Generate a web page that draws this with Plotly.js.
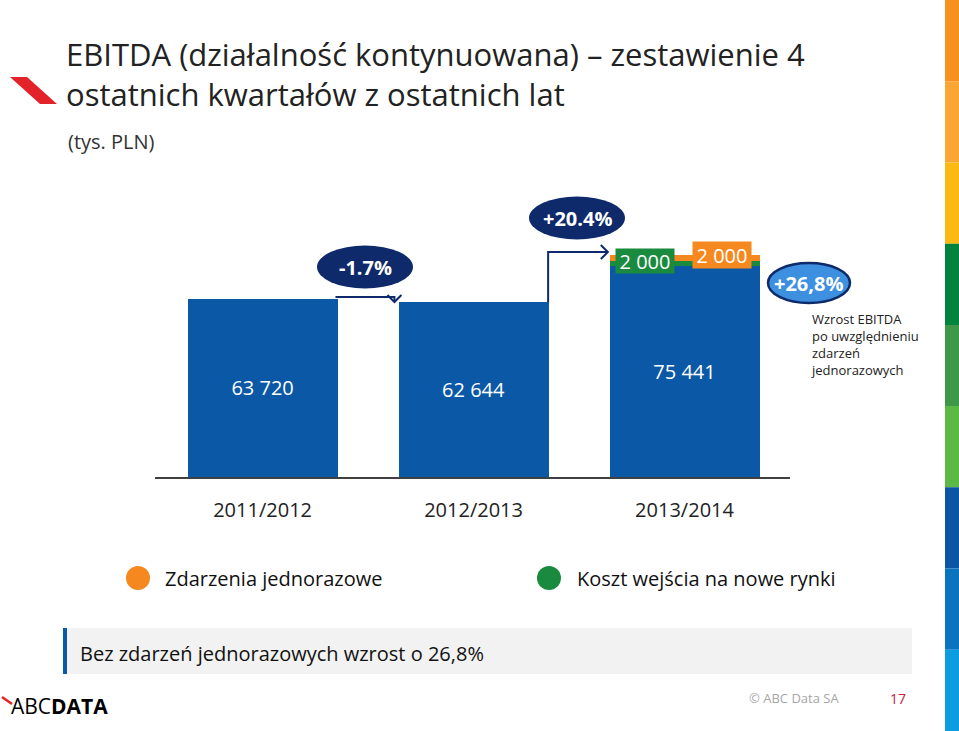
<!DOCTYPE html>
<html>
<head>
<meta charset="utf-8">
<script src="https://cdn.plot.ly/plotly-3.0.1.min.js"></script>
<style>html,body{margin:0;padding:0;background:#fff;}#chart{width:959px;height:731px;}</style>
</head>
<body>
<div id="chart"></div>
<script>
// ---- data ----
const categories = ['2011/2012', '2012/2013', '2013/2014'];
const ebitda = [63720, 62644, 75441];
const marketEntryCost = [null, null, 2000];
const oneOffEvents = [null, null, 2000];
const changeLabels = ['-1.7%', '+20.4%'];
const totalGrowthLabel = '+26,8%';
const legendNames = ['Zdarzenia jednorazowe', 'Koszt wejścia na nowe rynki'];

// ---- styling ----
const FONT = 'Open Sans, Noto Sans, sans-serif';
const BLUE = '#0b58a6', GREEN = '#1a8a3f', ORANGE = '#f5891f', NAVY = '#0e2a6b';
const L = 155, R = 790, T = 192, B = 477, W = R - L, H = B - T;
const X = p => (p - L) / W;
const Y = p => (B - p) / H;
const fmt = v => String(v).replace(/\B(?=(\d{3})+(?!\d))/g, ' ');
const xIdx = categories.map((c, i) => i);

const traces = [
  {type: 'bar', x: xIdx, y: ebitda, name: 'EBITDA', marker: {color: BLUE},
   text: ebitda.map(fmt), textposition: 'inside', insidetextanchor: 'middle', textangle: 0,
   textfont: {color: '#ffffff', size: 20, family: FONT}, showlegend: false},
  {type: 'bar', x: xIdx, y: marketEntryCost, name: legendNames[1], marker: {color: GREEN},
   textposition: 'none', showlegend: false},
  {type: 'bar', x: xIdx, y: oneOffEvents, name: legendNames[0], marker: {color: ORANGE},
   textposition: 'none', showlegend: false}
];

const shapes = [];
const annotations = [];

// right colour strip
const stripColors = ['#f7901e', '#f9a637', '#fdb913', '#00843d', '#3e9847', '#5cb946', '#0c55a3', '#0a74be', '#0b9de0'];
stripColors.forEach((c, i) => {
  shapes.push({type: 'rect', xref: 'paper', yref: 'paper', x0: X(945), x1: X(959),
    y0: Y(i * 731 / 9), y1: Y((i + 1) * 731 / 9), fillcolor: c, line: {width: 0}});
});

// red logo mark
shapes.push({type: 'path', xref: 'paper', yref: 'paper', fillcolor: '#e3222a', line: {width: 0},
  path: `M ${X(10)},${Y(77)} L ${X(27)},${Y(77)} L ${X(57)},${Y(104)} L ${X(40)},${Y(104)} Z`});

// arrows (anchored on bar tops)
const half = (1 - 0.289) / 2;
const dx = 7 / (W / 3.01), dy = 7 * 102000 / H;
const a1y = ebitda[0] + 700, a1x0 = 0 + half - 0.01, a1x1 = 0.625;
shapes.push({type: 'path', xref: 'x', yref: 'y', line: {color: NAVY, width: 2},
  path: `M ${a1x0},${a1y} L ${a1x1},${a1y} L ${a1x1},${ebitda[1]}`});
shapes.push({type: 'path', xref: 'x', yref: 'y', line: {color: NAVY, width: 2},
  path: `M ${a1x1 - dx},${ebitda[1] + dy} L ${a1x1},${ebitda[1]} L ${a1x1 + dx},${ebitda[1] + dy}`});
const a2x0 = 1 + half - 0.002, a2y = 80500, a2x1 = 2 - half - 0.008;
shapes.push({type: 'path', xref: 'x', yref: 'y', line: {color: NAVY, width: 2},
  path: `M ${a2x0},${ebitda[1]} L ${a2x0},${a2y} L ${a2x1},${a2y}`});
shapes.push({type: 'path', xref: 'x', yref: 'y', line: {color: NAVY, width: 2},
  path: `M ${a2x1 - dx},${a2y + dy} L ${a2x1},${a2y} L ${a2x1 - dx},${a2y - dy}`});

// bubbles
function bubble(cx, cy, rx, ry, fill, border, label) {
  shapes.push({type: 'circle', xref: 'paper', yref: 'paper', x0: X(cx - rx), x1: X(cx + rx),
    y0: Y(cy + ry), y1: Y(cy - ry), fillcolor: fill, line: {color: border, width: border === fill ? 0 : 2.5}});
  annotations.push({xref: 'paper', yref: 'paper', x: X(cx), y: Y(cy), text: '<b>' + label + '</b>',
    showarrow: false, font: {family: FONT, size: 20, color: '#ffffff'}, xanchor: 'center', yanchor: 'middle'});
}
bubble(365, 267, 48, 21.5, NAVY, NAVY, changeLabels[0]);
bubble(577, 218, 48, 21.5, NAVY, NAVY, changeLabels[1]);
bubble(809, 283, 41, 20, '#3d8fe0', NAVY, totalGrowthLabel);

// 2 000 labels
annotations.push({xref: 'x', yref: 'y', x: 2, y: ebitda[2] + marketEntryCost[2], xshift: -40,
  text: fmt(marketEntryCost[2]), showarrow: false, bgcolor: GREEN, borderpad: 0, width: 58, height: 24,
  font: {family: FONT, size: 20, color: '#ffffff'}});
annotations.push({xref: 'x', yref: 'y', x: 2, y: ebitda[2] + marketEntryCost[2] + oneOffEvents[2], xshift: 37,
  text: fmt(oneOffEvents[2]), showarrow: false, bgcolor: ORANGE, borderpad: 0, width: 58, height: 26,
  font: {family: FONT, size: 20, color: '#ffffff'}});

// side note
annotations.push({xref: 'paper', yref: 'paper', x: X(809), y: Y(308), xanchor: 'left', yanchor: 'top', align: 'left',
  text: 'Wzrost EBITDA<br>po uwzględnieniu<br>zdarzeń<br>jednorazowych', showarrow: false,
  font: {family: FONT, size: 13, color: '#222'}});

// subtitle
annotations.push({xref: 'paper', yref: 'paper', x: X(66), y: Y(142), xanchor: 'left', yanchor: 'middle',
  text: '(tys. PLN)', showarrow: false, font: {family: FONT, size: 20, color: '#333'}});

// legend
[[138, ORANGE, legendNames[0], 163], [549, GREEN, legendNames[1], 575]].forEach(([cx, col, name, tx]) => {
  shapes.push({type: 'circle', xref: 'paper', yref: 'paper', x0: X(cx - 12), x1: X(cx + 12),
    y0: Y(590), y1: Y(566), fillcolor: col, line: {width: 0}});
  annotations.push({xref: 'paper', yref: 'paper', x: X(tx), y: Y(578), xanchor: 'left', yanchor: 'middle',
    text: name, showarrow: false, font: {family: FONT, size: 20, color: '#111'}});
});

// bottom box
shapes.push({type: 'rect', xref: 'paper', yref: 'paper', x0: X(63), x1: X(912), y0: Y(674), y1: Y(628),
  fillcolor: '#f2f2f2', line: {width: 0}, layer: 'below'});
shapes.push({type: 'rect', xref: 'paper', yref: 'paper', x0: X(63), x1: X(67), y0: Y(674), y1: Y(628),
  fillcolor: BLUE, line: {width: 0}});
annotations.push({xref: 'paper', yref: 'paper', x: X(78), y: Y(653), xanchor: 'left', yanchor: 'middle',
  text: 'Bez zdarzeń jednorazowych wzrost o 26,8%', showarrow: false, font: {family: FONT, size: 20, color: '#111'}});

// footer logo
shapes.push({type: 'line', xref: 'paper', yref: 'paper', x0: X(2), y0: Y(697), x1: X(12), y1: Y(704),
  line: {color: '#e3222a', width: 2.5}});
annotations.push({xref: 'paper', yref: 'paper', x: X(9), y: Y(706), xanchor: 'left', yanchor: 'middle',
  text: 'ABC<b>DATA</b>', showarrow: false, font: {family: FONT, size: 21, color: '#000'}});
annotations.push({xref: 'paper', yref: 'paper', x: X(747), y: Y(698), xanchor: 'left', yanchor: 'middle',
  text: '© ABC Data SA', showarrow: false, font: {family: FONT, size: 13, color: '#a6a6a6'}});
annotations.push({xref: 'paper', yref: 'paper', x: X(888), y: Y(698), xanchor: 'left', yanchor: 'middle',
  text: '17', showarrow: false, font: {family: FONT, size: 14, color: '#c0203a'}});

const layout = {
  width: 959, height: 731,
  margin: {l: L, r: 959 - R, t: T, b: 731 - B, pad: 0},
  paper_bgcolor: '#ffffff', plot_bgcolor: 'rgba(0,0,0,0)',
  font: {family: FONT},
  title: {text: 'EBITDA (działalność kontynuowana) – zestawienie 4<br>ostatnich kwartałów z ostatnich lat',
    x: 66 / 959, xanchor: 'left', xref: 'container', y: 1 - 66 / 731, yanchor: 'middle', yref: 'container',
    font: {family: FONT, size: 31, color: '#222'}},
  barmode: 'stack', bargap: 0.289,
  xaxis: {range: [-0.51, 2.5], tickvals: xIdx, ticktext: categories, showline: true, linecolor: '#404040',
    linewidth: 2, showgrid: false, zeroline: false, ticks: '', ticklabelstandoff: 14,
    tickfont: {family: FONT, size: 20, color: '#222'}, fixedrange: true},
  yaxis: {range: [0, 102000], visible: false, showgrid: false, zeroline: false, fixedrange: true},
  showlegend: false,
  shapes: shapes, annotations: annotations
};

Plotly.newPlot('chart', traces, layout, {displayModeBar: false, staticPlot: true});
</script>
</body>
</html>
